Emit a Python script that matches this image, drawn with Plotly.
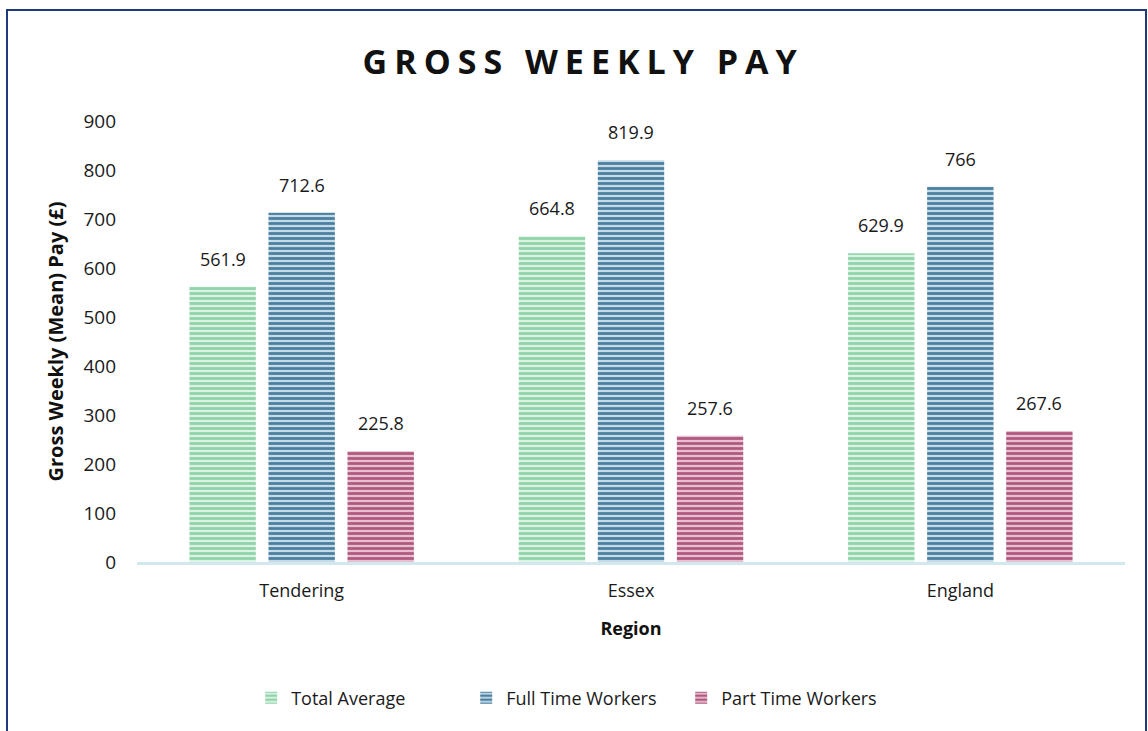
import plotly.graph_objects as go

regions = ["Tendering", "Essex", "England"]
total_average = [561.9, 664.8, 629.9]
full_time = [712.6, 819.9, 766]
part_time = [225.8, 257.6, 267.6]
y_ticks = [0, 100, 200, 300, 400, 500, 600, 700, 800, 900]

FONT = "Open Sans"
TXT = "#1a1a1a"

series = [
    ("Total Average", total_average, "#8fd4a9", "#dcf2e3"),
    ("Full Time Workers", full_time, "#4a7f9f", "#c4dae6"),
    ("Part Time Workers", part_time, "#b0597f", "#e6bfd0"),
]

BARGAP, GROUPGAP = 0.28, 0.16
W, H = 1148, 731
L, R, T, B = 137, 23, 121, 169
pw, ph = W - L - R, H - T - B

def px(x):
    return (x - L) / pw

def py(y):
    return (H - B - y) / ph

fig = go.Figure()
n = len(series)
slot_px = pw / len(regions) * (1 - BARGAP) / n
for i, (name, vals, fg, bg) in enumerate(series):
    fig.add_trace(go.Bar(
        name=name, x=regions, y=vals,
        marker=dict(color=fg, line=dict(width=0),
                    pattern=dict(shape="-", fgcolor=fg, bgcolor=bg, size=5, solidity=0.55, fillmode="replace")),
        cliponaxis=False,
    ))
    shift = (i - (n - 1) / 2) * slot_px
    for r, v in zip(regions, vals):
        fig.add_annotation(x=r, y=v, xref="x", yref="y", text=f"{v:g}", showarrow=False,
                           xshift=shift, yshift=14, yanchor="bottom",
                           font=dict(family=FONT, size=18, color=TXT))

fig.update_layout(
    width=W, height=H,
    margin=dict(l=L, r=R, t=T, b=B),
    paper_bgcolor="white", plot_bgcolor="white",
    barmode="group", bargap=BARGAP, bargroupgap=GROUPGAP,
    font=dict(family=FONT, size=18, color=TXT),
    title=dict(text="<b><span style='letter-spacing:7px'>GROSS WEEKLY PAY</span></b>", x=0.508, xanchor="center",
               y=1 - 62 / H, yanchor="middle",
               font=dict(family=FONT, size=34, color="#111111")),
    xaxis=dict(showline=True, linecolor="#d3e8ee", linewidth=3, ticks="", showgrid=False,
               tickfont=dict(family=FONT, size=18, color=TXT), ticklabelstandoff=10,
               title=dict(text="<b>Region</b>", font=dict(family=FONT, size=18, color="#111111"), standoff=22)),
    yaxis=dict(range=[0, 900], tickvals=y_ticks, showgrid=False, zeroline=False, showline=False,
               tickfont=dict(family=FONT, size=19, color=TXT), ticklabelstandoff=20,
               title=dict(text="<b>Gross Weekly (Mean) Pay (£)</b>", font=dict(family=FONT, size=20, color="#111111"), standoff=14)),
    legend=dict(orientation="h", x=0.442, xanchor="center", y=py(698), yanchor="middle",
                font=dict(family=FONT, size=18, color=TXT), itemwidth=30, traceorder="normal",
                entrywidth=170, entrywidthmode="pixels"),
    showlegend=True,
)

fig.add_shape(type="rect", xref="paper", yref="paper",
              x0=px(7), x1=px(1146), y0=py(745), y1=py(10),
              line=dict(color="#1f3a7a", width=2), fillcolor="rgba(0,0,0,0)", layer="above")

fig.write_html("out.html", config={"displayModeBar": False},
               post_script="document.body.style.margin='0px';")
